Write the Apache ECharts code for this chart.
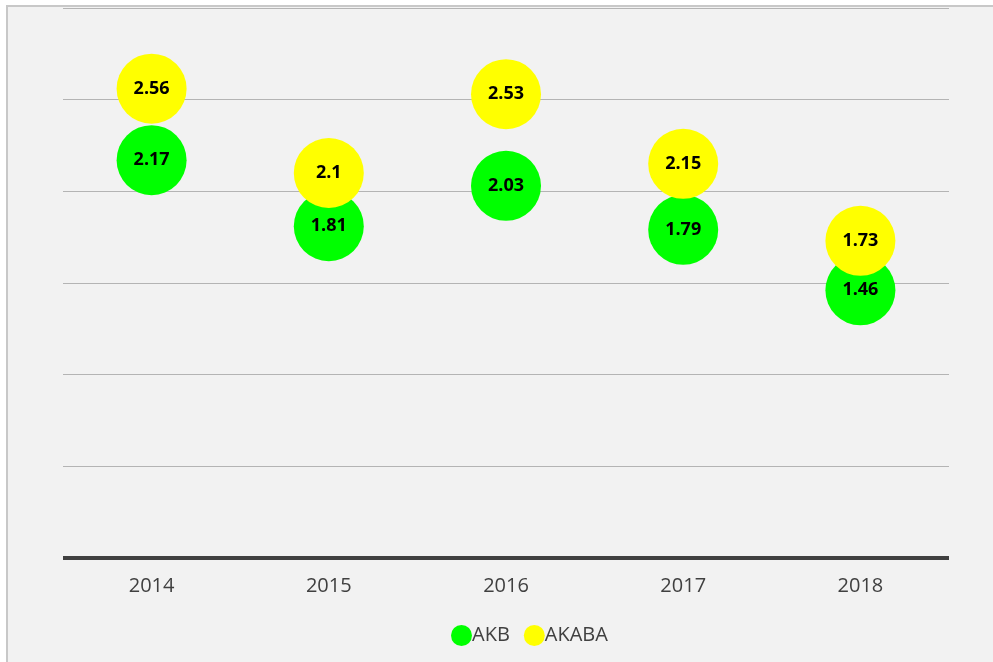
<!DOCTYPE html>
<html>
<head>
<meta charset="utf-8">
<script src="https://cdn.jsdelivr.net/npm/echarts@6/dist/echarts.min.js"></script>
<style>
  html, body { margin: 0; padding: 0; background: #fff; }
  #frame {
    position: absolute; left: 6px; top: 5px; width: 995px; height: 665px;
    border-left: 2px solid #c8c8c8; border-top: 2px solid #c8c8c8;
    background: #f2f2f2;
  }
  #chart { position: absolute; left: 0; top: 0; width: 993px; height: 662px; }
</style>
</head>
<body>
<div id="frame"></div>
<div id="chart"></div>
<script>
// 数据
const years = ['2014', '2015', '2016', '2017', '2018']
const akb = [2.17, 1.81, 2.03, 1.79, 1.46]
const akaba = [2.56, 2.1, 2.53, 2.15, 1.73]

const chart = echarts.init(document.getElementById('chart'))

const labelStyle = {
  show: true,
  position: 'inside',
  color: '#000',
  fontWeight: 'bold',
  fontSize: 18,
  fontFamily: 'Open Sans',
  formatter: '{c}'
}

const option = {
  backgroundColor: 'transparent',
  animation: false,
  grid: { left: 63, right: 44, top: 8, bottom: 104 },
  legend: {
    left: 446,
    top: 620,
    icon: 'circle',
    itemWidth: 21,
    itemHeight: 21,
    itemGap: 14,
    textStyle: { color: '#404040', fontSize: 20, fontFamily: 'Open Sans', padding: [0, 0, 0, -5] },
    data: ['AKB', 'AKABA']
  },
  xAxis: {
    type: 'category',
    data: years,
    boundaryGap: true,
    axisLine: { lineStyle: { color: '#404040', width: 4, cap: 'butt' } },
    axisTick: { show: false },
    axisLabel: { color: '#404040', fontSize: 20, fontFamily: 'Open Sans', margin: 18 }
  },
  yAxis: {
    type: 'value',
    min: 0,
    max: 3,
    interval: 0.5,
    axisLine: { show: false },
    axisTick: { show: false },
    axisLabel: { show: false },
    splitLine: { lineStyle: { color: '#b4b4b4', width: 1 } }
  },
  series: [
    {
      name: 'AKB',
      type: 'scatter',
      symbolSize: 70,
      itemStyle: { color: '#00ff00', opacity: 1 },
      label: labelStyle,
      data: akb
    },
    {
      name: 'AKABA',
      type: 'scatter',
      symbolSize: 70,
      itemStyle: { color: '#ffff00', opacity: 1 },
      label: labelStyle,
      data: akaba
    }
  ]
}
chart.setOption(option)
</script>
</body>
</html>
